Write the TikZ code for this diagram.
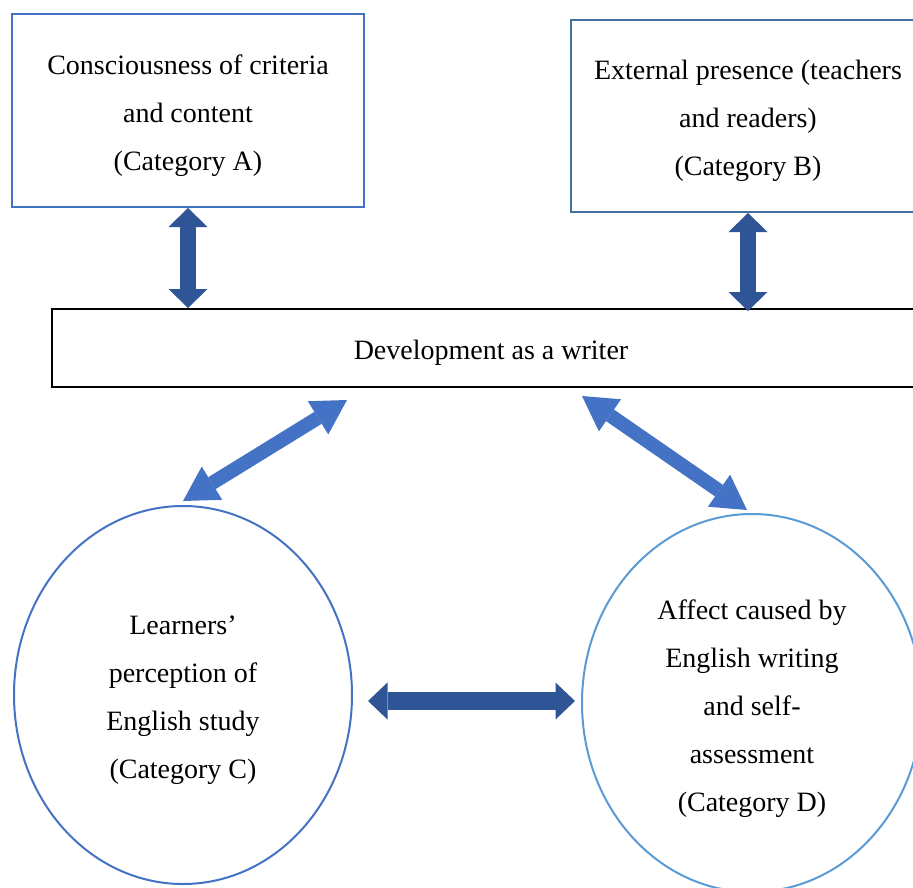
\documentclass[tikz,border=0pt]{standalone}
\usepackage{fontspec}
\setmainfont{Liberation Serif}
\usetikzlibrary{arrows.meta,shapes.geometric}
\definecolor{boxblue}{HTML}{4472C4}
\definecolor{steelblue}{HTML}{41719C}
\definecolor{lightblue}{HTML}{5B9BD5}
\definecolor{darkarrow}{HTML}{2F5597}
\tikzset{
  txt/.style={font=\fontsize{28}{48}\selectfont, align=center, inner sep=0pt},
  catbox/.style={draw, line width=2pt, rectangle, inner sep=0pt},
  catoval/.style={draw, line width=2pt, ellipse, inner sep=0pt},
  vlink/.style={darkarrow, line width=16pt,
    {Triangle[width=39pt,length=19pt,line width=0pt]}-{Triangle[width=39pt,length=19pt,line width=0pt]}},
  hlink/.style={darkarrow, line width=18pt,
    {Triangle[width=37pt,length=19.5pt,line width=0pt]}-{Triangle[width=37pt,length=19.5pt,line width=0pt]}},
  dlink/.style={boxblue, line width=14pt,
    {Triangle[width=39pt,length=34pt,line width=0pt]}-{Triangle[width=39pt,length=34pt,line width=0pt]}},
}
\begin{document}
\begin{tikzpicture}[x=1pt,y=-1pt]
\useasboundingbox (0,0) rectangle (913,888);
\fill[white] (0,0) rectangle (913,888);

% category boxes
\node[catbox, draw=boxblue, minimum width=352pt, minimum height=193pt] (A) at (188,110.5) {};
\node[catbox, draw=steelblue, minimum width=354pt, minimum height=192pt] (B) at (748,116) {};

% central box
\node[catbox, draw=black, minimum width=878pt, minimum height=78pt] (dev) at (491,348) {};

% category ovals
\node[catoval, draw=boxblue, minimum width=338pt, minimum height=378pt] (C) at (183,695) {};
\node[catoval, draw=lightblue, minimum width=340pt, minimum height=378pt] (D) at (752,703) {};

% texts, set a little below the geometric centres
\node[txt] (Atext) at ([yshift=-5pt]A.center) {Consciousness of criteria\\and content\\(Category A)};
\node[txt] (Btext) at ([yshift=-5pt]B.center) {External presence (teachers\\and readers)\\(Category B)};
\node[txt] (devtext) at ([yshift=-5pt]dev.center) {Development as a writer};
\node[txt] (Ctext) at ([yshift=-5pt]C.center) {Learners’\\perception of\\English study\\(Category C)};
\node[txt] (Dtext) at ([yshift=-6pt]D.center) {Affect caused by\\English writing\\and self-\\assessment\\(Category D)};

% free ends of the diagonal links, just below the central box
\coordinate (dL) at (347,400);
\coordinate (dR) at (582,396);

% links
\draw[vlink] (A.south) -- (A.south |- dev.north);
\draw[vlink] (B.south) -- ([yshift=-3pt]B.south |- dev.north);
\draw[dlink] (dL) -- ([yshift=4pt]C.north);
\draw[dlink] (dR) -- ([xshift=-5pt,yshift=3pt]D.north);
\draw[hlink] ([shift={(15,6)}]C.east) -- ([shift={(-6,-2)}]D.west);
\end{tikzpicture}
\end{document}
